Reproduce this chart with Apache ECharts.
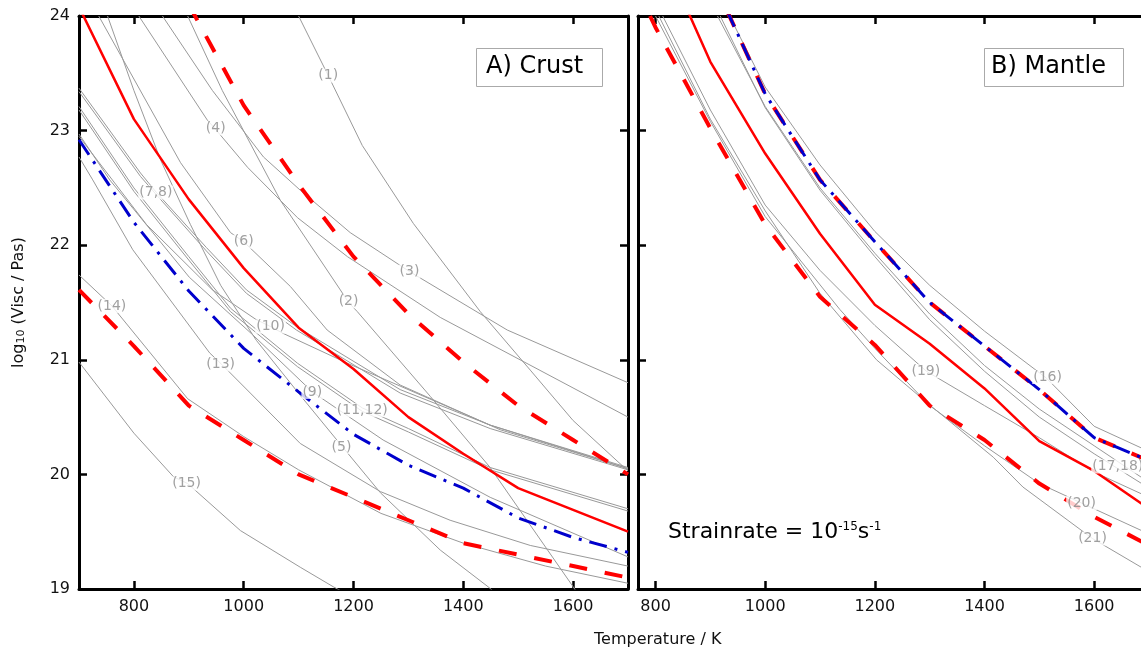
<!DOCTYPE html>
<html>
<head>
<meta charset="utf-8">
<script src="https://cdn.jsdelivr.net/npm/echarts@6/dist/echarts.min.js"></script>
<style>
html, body { margin: 0; padding: 0; background: #fff; }
#chart { width: 1141px; height: 653px; }
</style>
</head>
<body>
<div id="chart"></div>
<script>
// ---- data: [Temperature K, log10 viscosity] ----
// A) Crust
var crustMean = [[700,24.08],[800,23.1],[900,22.4],[1000,21.8],[1100,21.28],[1200,20.92],[1300,20.5],[1400,20.18],[1500,19.88],[1600,19.69],[1700,19.5]];
var crustHigh = [[900,24.1],[1000,23.22],[1100,22.53],[1200,21.9],[1300,21.4],[1400,20.98],[1500,20.6],[1600,20.3],[1700,20.0]];
var crustLow = [[700,21.61],[800,21.12],[900,20.6],[1000,20.3],[1100,20.0],[1200,19.8],[1300,19.6],[1400,19.4],[1500,19.3],[1600,19.2],[1700,19.1]];
var crustBlue = [[700,22.92],[800,22.2],[900,21.6],[1000,21.1],[1100,20.72],[1200,20.35],[1300,20.08],[1400,19.88],[1500,19.62],[1600,19.45],[1700,19.32]];

var c1 = [[1100,24],[1154,23.48],[1216,22.87],[1309,22.19],[1431,21.42],[1522,20.91],[1600,20.47],[1700,20.03]];
var c2 = [[898,24],[961,23.35],[1067,22.39],[1176,21.61],[1191,21.5],[1207,21.42],[1340,20.68],[1449,20.06],[1600,19.02],[1700,18.3]];
var c3 = [[852,24],[943,23.35],[1036,22.77],[1103,22.48],[1194,22.11],[1302,21.77],[1480,21.26],[1700,20.8]];
var c4 = [[809,24],[934,23.09],[949,23.01],[1007,22.68],[1098,22.24],[1189,21.9],[1358,21.37],[1700,20.5]];
var c5 = [[752,24],[800,23.35],[849,22.74],[903,22.18],[958,21.65],[1023,21.17],[1103,20.69],[1180,20.24],[1249,19.84],[1358,19.34],[1445,19.02],[1500,18.8]];
var c6 = [[736,24],[885,22.72],[976,22.11],[1000,22.03],[1085,21.64],[1152,21.26],[1285,20.78],[1467,20.39],[1700,20.05]];
var c7 = [[700,23.37],[812,22.63],[841,22.46],[932,21.98],[1005,21.61],[1096,21.29],[1285,20.74],[1449,20.43],[1700,20.06]];
var c8 = [[700,23.34],[812,22.6],[841,22.44],[932,21.95],[1005,21.58],[1096,21.26],[1285,20.71],[1449,20.4],[1700,20.04]];
var c9 = [[700,22.97],[756,22.57],[901,21.72],[1016,21.22],[1125,20.72],[1254,20.3],[1449,19.8],[1700,19.28]];
var c10 = [[700,22.95],[823,22.18],[943,21.61],[1023,21.35],[1049,21.29],[1072,21.23],[1189,20.97],[1449,20.43],[1700,20.05]];
var c11 = [[700,23.21],[800,22.5],[900,21.9],[976,21.45],[1098,20.97],[1216,20.58],[1300,20.4],[1449,20.06],[1700,19.7]];
var c12 = [[700,23.18],[800,22.47],[900,21.87],[976,21.42],[1098,20.94],[1216,20.55],[1300,20.37],[1449,20.04],[1700,19.68]];
var c13 = [[700,22.77],[725,22.57],[798,21.96],[938,21.06],[960,20.96],[1012,20.71],[1103,20.27],[1249,19.85],[1376,19.6],[1522,19.38],[1700,19.2]];
var c14 = [[700,21.74],[760,21.47],[898,20.66],[1000,20.33],[1100,20.04],[1250,19.66],[1400,19.4],[1550,19.2],[1700,19.05]];
var c15 = [[700,20.98],[800,20.36],[872,19.98],[898,19.92],[994,19.51],[1103,19.19],[1163,19.02],[1250,18.8]];

var crustLabels = ['(1)','(2)','(3)','(4)','(5)','(6)','(7,8)','(9)','(10)','(11,12)','(13)','(14)','(15)'];
var crustLabelT = [1154,1191,1302,949,1178,1000,840,1125,1049,1216,958,760,896];
var crustLabelV = [23.48,21.51,21.77,23.02,20.24,22.03,22.46,20.72,21.29,20.56,20.96,21.47,19.92];

// B) Mantle
var mantleMean = [[860,24.03],[900,23.6],[1000,22.8],[1100,22.1],[1200,21.48],[1300,21.14],[1400,20.75],[1500,20.29],[1600,20.03],[1700,19.7]];
var mantleHigh = [[930,24.05],[1000,23.32],[1100,22.57],[1200,22.03],[1300,21.5],[1400,21.12],[1500,20.74],[1600,20.32],[1700,20.12]];
var mantleLow = [[790,24.0],[800,23.9],[900,23.02],[1000,22.18],[1100,21.55],[1200,21.13],[1300,20.6],[1400,20.3],[1500,19.92],[1600,19.63],[1700,19.38]];
var mantleBlue = [[930,24.05],[1000,23.32],[1100,22.57],[1200,22.03],[1300,21.5],[1400,21.12],[1500,20.74],[1600,20.32],[1700,20.12]];

var m16 = [[935,24.0],[1000,23.38],[1100,22.7],[1200,22.12],[1300,21.65],[1400,21.25],[1513,20.84],[1600,20.42],[1700,20.2]];
var m17 = [[913,24.0],[1000,23.21],[1100,22.5],[1200,21.93],[1300,21.4],[1400,20.95],[1500,20.57],[1600,20.25],[1700,19.93]];
var m18 = [[918,24.0],[1000,23.2],[1100,22.48],[1200,21.9],[1300,21.35],[1400,20.9],[1500,20.5],[1600,20.18],[1700,19.88]];
var m19 = [[813,24.0],[900,23.18],[1000,22.35],[1100,21.78],[1200,21.3],[1294,20.9],[1400,20.6],[1500,20.32],[1600,20.02],[1700,19.8]];
var m20 = [[800,24.0],[900,23.08],[1000,22.25],[1136,21.44],[1200,21.1],[1300,20.6],[1400,20.25],[1500,19.92],[1577,19.75],[1700,19.48]];
var m21 = [[806,24.0],[900,23.1],[1000,22.3],[1100,21.58],[1203,21.0],[1294,20.63],[1416,20.15],[1470,19.89],[1597,19.44],[1700,19.15]];

var mantleLabels = ['(16)','(17,18)','(19)','(20)','(21)'];
var mantleLabelT = [1515,1643,1293,1577,1597];
var mantleLabelV = [20.85,20.07,20.9,19.75,19.44];

var font = 'DejaVu Sans';
var myChart = echarts.init(document.getElementById('chart'), null, { renderer: 'canvas' });

function grey(data, xi) {
	return {
		type: 'line', xAxisIndex: xi, yAxisIndex: xi, data: data,
		showSymbol: false, silent: true, z: 2,
		lineStyle: { color: '#999', width: 1 }
	};
}
function styled(data, xi, color, width, dash, z) {
	return {
		type: 'line', xAxisIndex: xi, yAxisIndex: xi, data: data,
		showSymbol: false, silent: true, z: z,
		lineStyle: { color: color, width: width, type: dash, cap: 'butt' }
	};
}
function labels(names, ts, vs, xi) {
	var d = [];
	for (var i = 0; i < names.length; i++) {
		d.push({ name: names[i], value: [ts[i], vs[i]] });
	}
	return {
		type: 'scatter', xAxisIndex: xi, yAxisIndex: xi, data: d, z: 10,
		symbolSize: 1, itemStyle: { color: 'rgba(0,0,0,0)' }, silent: true,
		label: {
			show: true, position: 'inside', formatter: '{b}',
			fontFamily: font, fontSize: 14, color: '#888',
			backgroundColor: '#fff', padding: [0, 1]
		}
	};
}

var axisLine = { show: true, onZero: false, lineStyle: { color: '#000', width: 3 } };
var tick = { show: true, inside: true, length: 8, lineStyle: { color: '#000', width: 2.5 } };

function xAxis(gi, min, pos, showLabel) {
	return {
		type: 'value', gridIndex: gi, min: min, max: 1700, position: pos,
		minInterval: 200, maxInterval: 200,
		axisLine: axisLine, axisTick: tick, splitLine: { show: false },
		axisLabel: {
			show: showLabel, showMinLabel: false, showMaxLabel: false,
			fontFamily: font, fontSize: 16, color: '#111', margin: 10,
			formatter: function (v) { return String(v); }
		}
	};
}
function yAxis(gi, pos, showLabel, name) {
	return {
		type: 'value', gridIndex: gi, min: 19, max: 24, interval: 1, position: pos,
		axisLine: axisLine, axisTick: tick, splitLine: { show: false },
		name: name || '', nameLocation: 'middle', nameGap: 52, nameRotate: 90,
		nameTextStyle: {
			fontFamily: font, fontSize: 16, color: '#111',
			rich: { sub: { fontFamily: font, fontSize: 11, color: '#111', verticalAlign: 'bottom', padding: [6, 0, 0, 0] } }
		},
		axisLabel: { show: showLabel, fontFamily: font, fontSize: 16, color: '#111', margin: 9 }
	};
}

option = {
	backgroundColor: '#fff',
	animation: false,
	grid: [
		{ left: 79, top: 16, width: 549, height: 573, outerBoundsMode: 'none', containLabel: false },
		{ left: 638, top: 16, width: 511, height: 573, outerBoundsMode: 'none', containLabel: false }
	],
	xAxis: [
		xAxis(0, 700, 'bottom', true),
		xAxis(0, 700, 'top', false),
		xAxis(1, 768, 'bottom', true),
		xAxis(1, 768, 'top', false)
	],
	yAxis: [
		yAxis(0, 'left', true, 'log{sub|10} (Visc / Pas)'),
		yAxis(0, 'right', false),
		yAxis(1, 'left', false),
		yAxis(1, 'right', false)
	],
	graphic: [
		{ type: 'rect', left: 476, top: 48, shape: { width: 126, height: 38 }, style: { fill: '#fff', stroke: '#aaa', lineWidth: 1 }, z: 20 },
		{ type: 'text', left: 486, top: 55, z: 21, style: { text: 'A) Crust', font: '24px "DejaVu Sans"', fill: '#000' } },
		{ type: 'rect', left: 984, top: 48, shape: { width: 139, height: 38 }, style: { fill: '#fff', stroke: '#aaa', lineWidth: 1 }, z: 20 },
		{ type: 'text', left: 991, top: 55, z: 21, style: { text: 'B) Mantle', font: '24px "DejaVu Sans"', fill: '#000' } },
		{
			type: 'text', left: 668, top: 521, z: 21,
			style: {
				text: 'Strainrate = 10{sup|-15}s{sup|-1}',
				font: '22px "DejaVu Sans"', fill: '#000',
				rich: { sup: { fontFamily: font, fontSize: 12, fill: '#000', verticalAlign: 'top', padding: [0, 0, 8, 0] } }
			}
		},
		{ type: 'text', left: 594, top: 632, style: { text: 'Temperature / K', font: '16px "DejaVu Sans"', fill: '#111' } }
	],
	series: [
		grey(c1, 0), grey(c2, 0), grey(c3, 0), grey(c4, 0), grey(c5, 0), grey(c6, 0), grey(c7, 0),
		grey(c8, 0), grey(c9, 0), grey(c10, 0), grey(c11, 0), grey(c12, 0), grey(c13, 0), grey(c14, 0), grey(c15, 0),
		styled(crustMean, 0, '#ff0000', 2.5, 'solid', 5),
		styled(crustHigh, 0, '#ff0000', 4, [18, 18], 5),
		styled(crustLow, 0, '#ff0000', 4, [18, 18], 5),
		styled(crustBlue, 0, '#0000cc', 3, [18, 8, 3, 8], 6),
		labels(crustLabels, crustLabelT, crustLabelV, 0),

		grey(m16, 2), grey(m17, 2), grey(m18, 2), grey(m19, 2), grey(m20, 2), grey(m21, 2),
		styled(mantleMean, 2, '#ff0000', 2.5, 'solid', 5),
		styled(mantleHigh, 2, '#ff0000', 4, [18, 18], 5),
		styled(mantleLow, 2, '#ff0000', 4, [18, 18], 5),
		styled(mantleBlue, 2, '#0000cc', 3, [18, 8, 3, 8], 6),
		labels(mantleLabels, mantleLabelT, mantleLabelV, 2)
	]
};
myChart.setOption(option);
</script>
</body>
</html>
